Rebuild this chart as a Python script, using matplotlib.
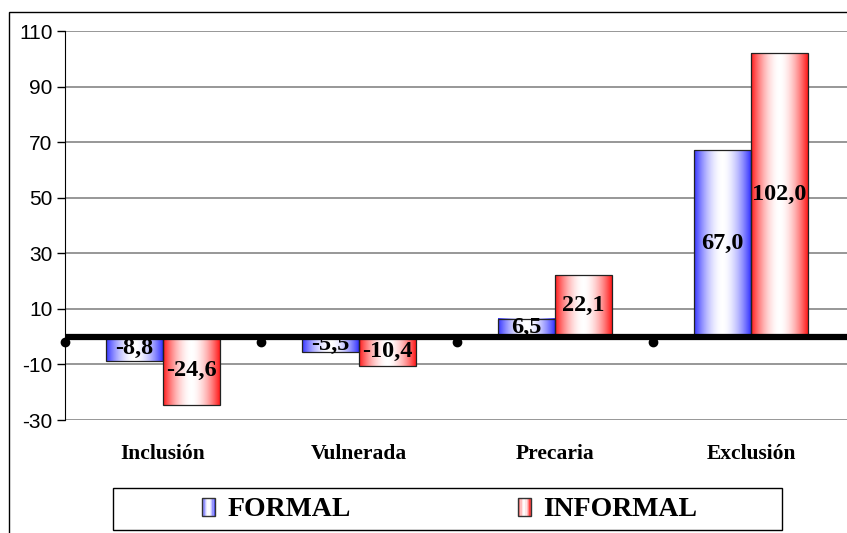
import numpy as np
import matplotlib
matplotlib.use('Agg')
import matplotlib.pyplot as plt
from matplotlib.patches import Rectangle
from matplotlib.legend_handler import HandlerBase
from matplotlib.colors import LinearSegmentedColormap

plt.rcParams['axes.unicode_minus'] = False

categories = ['Inclusión', 'Vulnerada', 'Precaria', 'Exclusión']
formal = [-8.8, -5.5, 6.5, 67.0]
informal = [-24.6, -10.4, 22.1, 102.0]
series_names = ['FORMAL', 'INFORMAL']
yticks = [-30, -10, 10, 30, 50, 70, 90, 110]

blue = (0.2, 0.2, 1.0)
red = (1.0, 0.1, 0.1)


def profile(n=200):
    # horizontal "centre" gradient: full colour at both edges, white in the middle
    t = np.linspace(0, 1, n)
    return np.abs(2 * t - 1) ** 1.8


def grad_bar(ax, x0, x1, y0, y1, color):
    cmap = LinearSegmentedColormap.from_list('g', [(1, 1, 1), color])
    img = profile()[None, :]
    ax.imshow(img, extent=[x0, x1, min(y0, y1), max(y0, y1)], aspect='auto',
              cmap=cmap, vmin=0, vmax=1, zorder=2, interpolation='bilinear')
    ax.add_patch(Rectangle((x0, min(y0, y1)), x1 - x0, abs(y1 - y0),
                           fill=False, edgecolor='#222222', lw=0.9, zorder=3))


class GradHandler(HandlerBase):
    def __init__(self, color):
        super().__init__()
        self.color = np.array(color)

    def create_artists(self, legend, orig_handle, xdescent, ydescent,
                       width, height, fontsize, trans):
        arts = []
        n = 10
        for i in range(n):
            t = (i + 0.5) / n
            w = abs(2 * t - 1) ** 1.8
            c = (1 - w) * np.ones(3) + w * self.color
            arts.append(Rectangle((-xdescent + i * width / n, -ydescent), width / n, height,
                                  facecolor=c, edgecolor='none', transform=trans))
        arts.append(Rectangle((-xdescent, -ydescent), width, height, fill=False,
                              edgecolor='#333333', lw=1, transform=trans))
        return arts


fig = plt.figure(figsize=(8.47, 5.33), dpi=100)
ax = fig.add_axes([65 / 847, 1 - 420 / 533, 1 - 63 / 847, (420 - 31) / 533])

x = np.arange(len(categories))
bw = 0.29
for i in range(len(categories)):
    grad_bar(ax, x[i] - bw, x[i], 0, formal[i], blue)
    grad_bar(ax, x[i], x[i] + bw, 0, informal[i], red)
    ax.text(x[i] - bw / 2, formal[i] / 2, f'{formal[i]:.1f}'.replace('.', ','),
            ha='center', va='center', fontsize=17.5, fontweight='bold',
            family='Liberation Serif', zorder=5)
    ax.text(x[i] + bw / 2, informal[i] / 2, f'{informal[i]:.1f}'.replace('.', ','),
            ha='center', va='center', fontsize=17.5, fontweight='bold',
            family='Liberation Serif', zorder=5)

# thick zero line with round markers at category boundaries
ax.axhline(0, color='black', lw=4.5, zorder=4)
ax.plot(np.arange(len(categories)) - 0.5, [-2] * len(categories), 'o',
        color='black', ms=6, zorder=4, clip_on=False)

ax.set_xlim(-0.5, 3.5)
ax.set_ylim(-30, 110)
ax.set_yticks(yticks)
ax.yaxis.grid(True, color='#7a7a7a', lw=1.1)
ax.set_axisbelow(True)
ax.set_xticks(x)
ax.set_xticklabels(categories, fontsize=15.5, fontweight='bold', family='Liberation Serif')
ax.tick_params(axis='x', length=0, pad=17)
ax.tick_params(axis='y', length=6, width=1, labelsize=15, pad=3)
for lab in ax.get_yticklabels():
    lab.set_family('Liberation Sans')
for s in ['top', 'right', 'bottom']:
    ax.spines[s].set_visible(False)
ax.spines['left'].set_color('black')

# outer chart border
fig.patches.append(Rectangle((9 / 847, -0.05), 1.1, 1 - 12 / 533 + 0.05, fill=False,
                             edgecolor='black', lw=1, transform=fig.transFigure))
# legend box
fig.patches.append(Rectangle((113 / 847, 3 / 533), (782 - 113) / 847, 42 / 533, fill=False,
                             edgecolor='black', lw=1, transform=fig.transFigure))

h1 = Rectangle((0, 0), 1, 1)
h2 = Rectangle((0, 0), 1, 1)
fig.legend([h1, h2], series_names, loc='center left',
           bbox_to_anchor=(202 / 847, 23 / 533), ncol=2, frameon=False,
           borderpad=0, borderaxespad=0,
           handler_map={h1: GradHandler(blue), h2: GradHandler(red)},
           prop={'family': 'Liberation Serif', 'weight': 'bold', 'size': 20},
           handlelength=0.47, handleheight=0.6, handletextpad=0.45, columnspacing=6.0)

fig.savefig('out.png', dpi=100)
